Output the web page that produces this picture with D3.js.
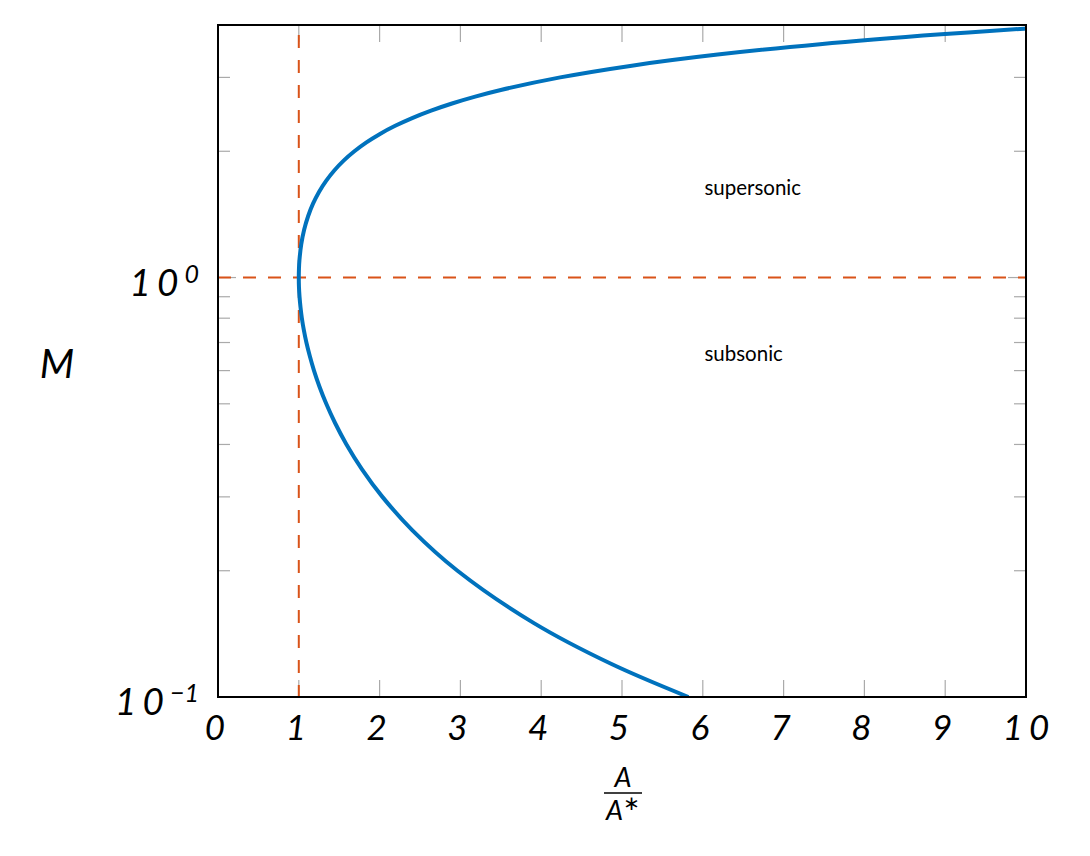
<!DOCTYPE html>
<html>
<head>
<meta charset="utf-8">
<script src="https://cdn.jsdelivr.net/npm/d3@7"></script>
<style>
  body { margin: 0; background: #fff; }
  text { font-family: Lato, "DejaVu Sans", sans-serif; }
</style>
</head>
<body>
<div id="chart"></div>
<script>
  // Mach number and area ratio A/A* along the curve
  var machValues = [0.1, 0.12, 0.15, 0.2, 0.25, 0.3, 0.35, 0.4, 0.45, 0.5, 0.55, 0.6, 0.65, 0.7, 0.75, 0.8, 0.85, 0.9, 0.95, 1.0,
                    1.05, 1.1, 1.2, 1.3, 1.4, 1.5, 1.6, 1.7, 1.8, 1.9, 2.0, 2.1, 2.2, 2.3, 2.4, 2.5, 2.6, 2.7, 2.8, 3.0, 3.2, 3.4, 3.6, 3.8, 3.92, 3.925];
  var areaRatio  = [5.822, 4.864, 3.910, 2.964, 2.403, 2.035, 1.778, 1.590, 1.449, 1.340, 1.255, 1.188, 1.136, 1.094, 1.062, 1.038, 1.021, 1.009, 1.002, 1.0,
                    1.002, 1.008, 1.030, 1.066, 1.115, 1.176, 1.250, 1.338, 1.439, 1.555, 1.688, 1.837, 2.005, 2.193, 2.403, 2.637, 2.896, 3.183, 3.500, 4.235, 5.121, 6.184, 7.450, 8.951, 9.977, 10.02];

  var xTicks     = [0, 1, 2, 3, 4, 5, 6, 7, 8, 9, 10];
  var yMajor     = [0.1, 1];
  var yMinor     = [0.2, 0.3, 0.4, 0.5, 0.6, 0.7, 0.8, 0.9, 2, 3];
  var regionText = [{label: 'supersonic', x: 6.02, m: 1.57}, {label: 'subsonic', x: 6.02, m: 0.632}];

  var width  = 1090,
      height = 856,
      margin = {left: 218, right: 64, top: 25, bottom: 159};

  var blue   = '#0072bd',
      orange = '#d95319';

  var svg = d3.select('#chart')
              .append('svg')
              .attr('width', width)
              .attr('height', height);

  var x = d3.scaleLinear()
            .domain([0, 10])
            .range([margin.left, width - margin.right]);

  var y = d3.scaleLog()
            .domain([0.1, 4])
            .range([height - margin.bottom, margin.top]);

  var x0 = x.range()[0], x1 = x.range()[1],
      yb = y.range()[0], yt = y.range()[1];

  svg.append('clipPath').attr('id', 'clip')
     .append('rect')
     .attr('x', x0).attr('y', yt)
     .attr('width', x1 - x0).attr('height', yb - yt);

  // tick marks inside the box, on all four sides
  var ticks = svg.append('g');
  xTicks.forEach(function(t){
    ticks.append('line').attr('x1', x(t)).attr('x2', x(t)).attr('y1', yb).attr('y2', yb - 17);
    ticks.append('line').attr('x1', x(t)).attr('x2', x(t)).attr('y1', yt).attr('y2', yt + 17);
  });
  yMinor.forEach(function(t){
    ticks.append('line').attr('x1', x0).attr('x2', x0 + 12).attr('y1', y(t)).attr('y2', y(t));
    ticks.append('line').attr('x1', x1).attr('x2', x1 - 12).attr('y1', y(t)).attr('y2', y(t));
  });
  yMajor.forEach(function(t){
    ticks.append('line').attr('x1', x0).attr('x2', x0 + 18).attr('y1', y(t)).attr('y2', y(t));
    ticks.append('line').attr('x1', x1).attr('x2', x1 - 18).attr('y1', y(t)).attr('y2', y(t));
  });
  ticks.selectAll('line').attr('stroke', '#aaa').attr('stroke-width', 1.2);

  // dashed reference lines (A/A* = 1 and M = 1)
  svg.append('line')
     .attr('x1', x(1)).attr('x2', x(1))
     .attr('y1', yt).attr('y2', yb)
     .attr('stroke', orange).attr('stroke-width', 2)
     .attr('stroke-dasharray', '13,12').attr('stroke-dashoffset', -10);
  svg.append('line')
     .attr('x1', x0).attr('x2', x1)
     .attr('y1', y(1)).attr('y2', y(1))
     .attr('stroke', orange).attr('stroke-width', 2)
     .attr('stroke-dasharray', '13,12');

  var pts = machValues.map(function(m, i){ return [areaRatio[i], m]; });

  var line = d3.line()
               .x(d => x(d[0]))
               .y(d => y(d[1]))
               .curve(d3.curveCatmullRom.alpha(0.5));

  svg.append('path')
     .datum(pts)
     .attr('clip-path', 'url(#clip)')
     .attr('d', line)
     .attr('fill', 'none')
     .attr('stroke', blue)
     .attr('stroke-width', 4);

  // frame
  svg.append('rect')
     .attr('x', x0).attr('y', yt)
     .attr('width', x1 - x0).attr('height', yb - yt)
     .attr('fill', 'none')
     .attr('stroke', '#000')
     .attr('stroke-width', 2);

  // x tick labels
  svg.append('g').selectAll('text')
     .data(xTicks)
     .enter()
     .append('text')
     .attr('x', d => x(d) + (d >= 10 ? 3 : 0))
     .attr('y', yb + 43)
     .attr('text-anchor', 'middle')
     .attr('font-size', 35)
     .attr('font-style', 'italic')
     .attr('letter-spacing', 6)
     .text(d => d);

  // y tick labels 10^e
  yMajor.forEach(function(t){
    var e = Math.round(Math.log10(t));
    var txt = svg.append('text')
                 .attr('x', x0 - 19)
                 .attr('y', y(t) + 18)
                 .attr('text-anchor', 'end')
                 .attr('font-size', 37)
                 .attr('font-style', 'italic');
    txt.append('tspan').attr('letter-spacing', 6).text('10');
    txt.append('tspan').attr('font-size', 25).attr('dy', -13)
       .text(e < 0 ? '\u2212' + Math.abs(e) : e);
  });

  // axis labels
  svg.append('text')
     .attr('x', 57).attr('y', 378)
     .attr('text-anchor', 'middle')
     .attr('font-size', 40)
     .attr('font-style', 'italic')
     .text('M');

  var fx = x(5) + 1;
  svg.append('text')
     .attr('x', fx).attr('y', 787)
     .attr('text-anchor', 'middle')
     .attr('font-size', 27)
     .attr('font-style', 'italic')
     .text('A');
  svg.append('line')
     .attr('x1', fx - 19).attr('x2', fx + 19)
     .attr('y1', 793).attr('y2', 793)
     .attr('stroke', '#000').attr('stroke-width', 1.3);
  var den = svg.append('text')
     .attr('x', fx).attr('y', 820)
     .attr('text-anchor', 'middle')
     .attr('font-size', 27)
     .attr('font-style', 'italic');
  den.append('tspan').text('A');
  den.append('tspan').attr('font-size', 20).attr('dy', -10).attr('font-style', 'normal').text('\u2217');

  // region annotations
  svg.append('g').selectAll('text')
     .data(regionText)
     .enter()
     .append('text')
     .attr('x', d => x(d.x))
     .attr('y', d => y(d.m))
     .attr('font-size', 20.5)
     .text(d => d.label);
</script>
</body>
</html>
